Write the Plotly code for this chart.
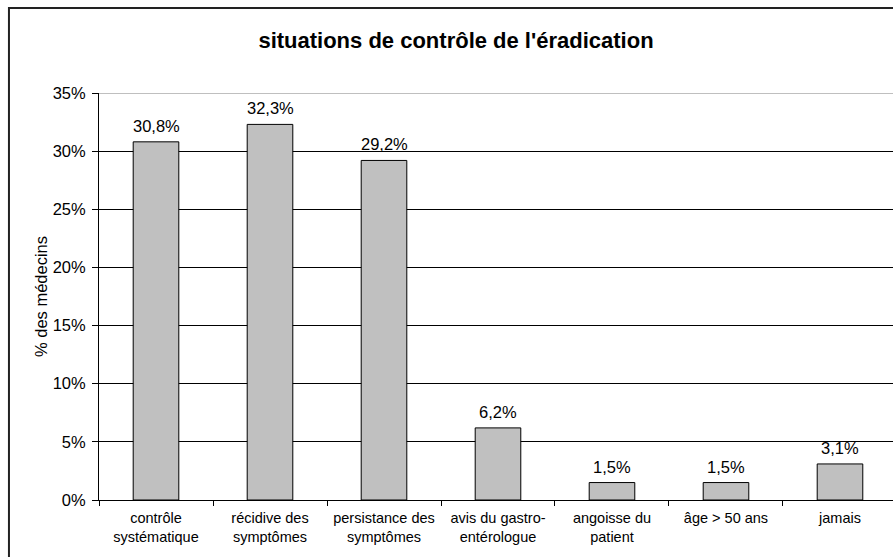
import plotly.graph_objects as go

categories = [
    "contrôle<br>systématique",
    "récidive des<br>symptômes",
    "persistance des<br>symptômes",
    "avis du gastro-<br>entérologue",
    "angoisse du<br>patient",
    "âge > 50 ans",
    "jamais",
]
values = [0.308, 0.323, 0.292, 0.062, 0.015, 0.015, 0.031]
y_ticks = [0, 0.05, 0.10, 0.15, 0.20, 0.25, 0.30, 0.35]

font = "Liberation Sans, Arial, sans-serif"

fig = go.Figure()
fig.add_trace(
    go.Bar(
        x=categories,
        y=values,
        width=0.4,
        marker={"color": "#C0C0C0", "line": {"color": "black", "width": 1}},
        hoverinfo="skip",
    )
)

# value labels above the bars
for cat, val in zip(categories, values):
    fig.add_annotation(
        x=cat, y=val,
        text=f"{val * 100:.1f}%".replace(".", ","),
        showarrow=False, yanchor="bottom", yshift=5,
        font={"size": 16.5, "color": "black", "family": font},
    )

# outer chart border (cropped on right and bottom in the reference)
fig.add_shape(
    type="rect", xref="paper", yref="paper",
    x0=-0.1134, x1=1.2, y0=-0.3, y1=1.2088,
    line={"color": "#222222", "width": 2}, layer="below",
)
# gray plot-area top edge
fig.add_shape(
    type="line", xref="paper", yref="y",
    x0=0, x1=1, y0=0.35, y1=0.35,
    line={"color": "#808080", "width": 1}, layer="above",
)

fig.update_layout(
    width=893,
    height=557,
    margin={"l": 99, "r": 0, "t": 93, "b": 57},
    paper_bgcolor="white",
    plot_bgcolor="white",
    separators=", ",
    showlegend=False,
    font={"family": font, "color": "black", "size": 15},
    title={
        "text": "<b>situations de contrôle de l'éradication</b>",
        "x": 456 / 893, "xanchor": "center",
        "y": 1 - 40 / 557, "yanchor": "middle",
        "font": {"size": 22, "family": font, "color": "black"},
    },
    xaxis={
        "range": [-0.5, 6.465],
        "showline": True, "linecolor": "black", "linewidth": 1,
        "ticks": "outside", "ticklen": 5, "tickcolor": "black",
        "tickson": "boundaries",
        "ticklabelstandoff": 5,
        "tickfont": {"size": 14.5, "family": font},
        "showgrid": False,
        "fixedrange": True,
    },
    yaxis={
        "range": [0, 0.35],
        "tickvals": y_ticks,
        "tickformat": ".0%",
        "showline": True, "linecolor": "black", "linewidth": 1,
        "ticks": "outside", "ticklen": 6, "tickcolor": "black",
        "ticklabelstandoff": 3,
        "showgrid": True, "gridcolor": "black", "gridwidth": 1,
        "zeroline": False,
        "tickfont": {"size": 16.5, "family": font},
        "title": {"text": "% des médecins", "font": {"size": 16.5, "family": font}, "standoff": 0},
        "fixedrange": True,
    },
)

fig.write_html(
    "out.html",
    config={"displayModeBar": False, "staticPlot": True},
    post_script="document.body.style.margin='0';document.body.style.overflow='hidden';",
)
